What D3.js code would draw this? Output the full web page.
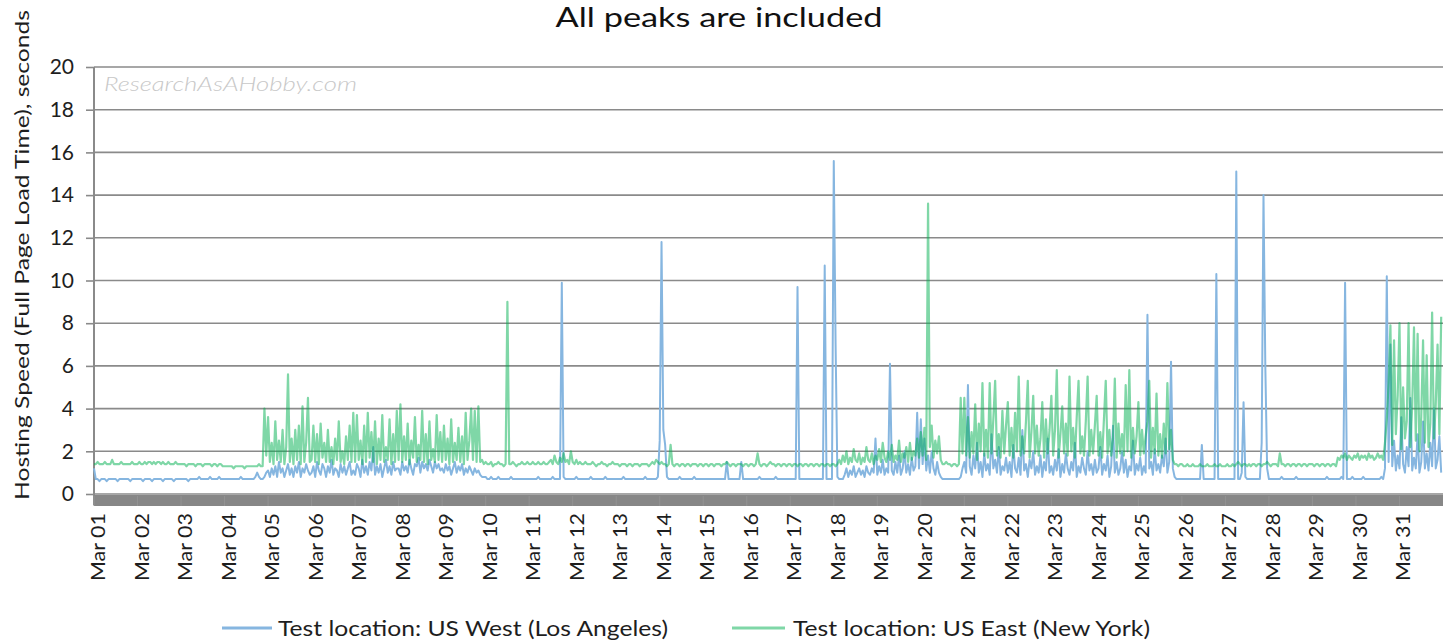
<!DOCTYPE html>
<html><head><meta charset="utf-8">
<script src="https://cdn.jsdelivr.net/npm/d3@7"></script>
<style>
body{margin:0;background:#fff;}
svg{display:block;font-family:Lato,"Open Sans",sans-serif;}
</style>
</head><body>
<svg id="chart" width="1451" height="643"></svg>
<script>
// ---------- data ----------
const chartTitle = "All peaks are included";
const yAxisTitle = "Hosting Speed (Full Page Load Time), seconds";
const watermark = "ResearchAsAHobby.com";
const seriesLabels = ["Test location: US West (Los Angeles)", "Test location: US East (New York)"];
const dayLabels = ["Mar 01","Mar 02","Mar 03","Mar 04","Mar 05","Mar 06","Mar 07","Mar 08","Mar 09","Mar 10",
  "Mar 11","Mar 12","Mar 13","Mar 14","Mar 15","Mar 16","Mar 17","Mar 18","Mar 19","Mar 20",
  "Mar 21","Mar 22","Mar 23","Mar 24","Mar 25","Mar 26","Mar 27","Mar 28","Mar 29","Mar 30","Mar 31"];
const yTickValues = [0,2,4,6,8,10,12,14,16,18,20];

// hourly load times (seconds), one row per day, 24 readings per row
const usWestHourly = [
  [1.2,0.7,0.7,0.6,0.7,0.7,0.7,0.6,0.7,0.7,0.7,0.7,0.7,0.6,0.7,0.7,0.7,0.7,0.7,0.7,0.6,0.7,0.7,0.7],
  [0.7,0.7,0.7,0.6,0.7,0.7,0.7,0.7,0.6,0.7,0.7,0.7,0.7,0.7,0.6,0.7,0.7,0.7,0.7,0.7,0.6,0.7,0.7,0.7],
  [0.7,0.7,0.7,0.7,0.6,0.7,0.7,0.7,0.7,0.7,0.8,0.7,0.7,0.7,0.7,0.7,0.8,0.7,0.7,0.7,0.7,0.8,0.7,0.7],
  [0.7,0.7,0.7,0.7,0.7,0.7,0.7,0.7,0.7,0.8,0.7,0.7,0.7,0.7,0.7,0.7,0.7,0.8,1.0,0.8,0.7,0.7,0.8,1.0],
  [1.1,0.8,1.2,0.9,1.3,0.8,1.5,1.0,1.2,0.8,1.1,1.4,0.9,1.2,0.8,1.3,1.0,1.5,0.8,1.2,1.0,1.4,1.1,0.9],
  [1.0,1.3,0.8,1.5,1.1,0.9,1.4,1.2,0.8,1.3,1.0,1.6,0.9,1.2,1.1,0.8,1.4,1.0,1.3,0.9,1.2,1.5,0.9,1.1],
  [0.9,1.4,1.2,0.8,1.6,1.0,1.3,0.9,1.5,1.1,2.2,0.9,1.3,1.0,1.4,0.8,1.2,1.6,1.0,1.3,0.9,1.5,1.1,1.2],
  [1.2,0.9,1.5,1.1,1.3,1.0,1.6,1.2,0.9,1.4,1.3,1.7,1.0,1.5,1.2,1.4,1.1,1.6,1.3,1.0,1.5,1.2,1.4,1.1],
  [1.2,1.0,1.4,1.1,1.3,0.9,1.2,1.5,1.0,1.3,1.1,1.4,0.9,1.2,1.0,1.3,1.1,0.9,1.2,1.0,1.1,0.9,0.8,0.8],
  [0.8,0.7,0.7,0.8,0.7,0.7,0.7,0.8,0.7,0.7,0.7,0.7,0.7,0.7,0.8,0.7,0.7,0.7,0.7,0.7,0.7,0.7,0.7,0.7],
  [0.7,0.7,0.7,0.7,0.7,0.8,0.7,0.7,0.7,0.7,0.7,0.7,0.7,0.8,0.7,0.7,0.7,0.7,9.9,0.8,0.7,0.7,0.7,0.7],
  [0.7,0.7,0.8,0.7,0.7,0.7,0.7,0.7,0.7,0.7,0.8,0.7,0.7,0.7,0.7,0.7,0.7,0.7,0.8,0.7,0.7,0.7,0.7,0.7],
  [0.7,0.7,0.7,0.7,0.8,0.7,0.7,0.7,0.7,0.7,0.7,0.7,0.7,0.7,0.7,0.7,0.8,0.7,0.7,0.7,0.7,0.7,0.7,0.8],
  [2.5,11.8,3.0,2.3,0.8,0.7,0.7,0.7,0.7,0.7,0.7,0.8,0.7,0.7,0.7,0.7,0.7,0.7,0.7,0.8,0.7,0.7,0.7,0.7],
  [0.7,0.7,0.7,0.7,0.7,0.7,0.7,0.7,0.7,0.7,0.7,0.7,0.7,1.5,0.7,0.7,0.7,0.7,0.7,0.7,0.7,1.5,0.7,0.7],
  [0.7,0.7,0.7,0.7,0.7,0.7,0.7,0.8,0.7,0.7,0.7,0.7,0.7,0.7,0.7,0.7,0.8,0.7,0.7,0.7,0.7,0.7,0.7,0.7],
  [0.7,0.7,0.7,0.7,9.7,0.7,0.7,0.7,0.7,0.7,0.7,0.7,0.7,0.7,0.7,0.7,0.7,0.7,0.7,10.7,0.7,0.7,0.7,0.7],
  [15.6,7.0,0.8,0.7,0.7,0.7,0.9,1.2,0.8,1.1,0.9,1.3,0.8,1.0,1.2,0.9,1.1,0.8,1.3,1.0,0.9,1.2,1.0,2.6],
  [0.9,1.3,1.0,1.6,0.9,1.2,1.0,6.1,1.1,0.9,1.5,1.0,1.8,0.9,1.2,2.0,1.0,1.4,0.9,1.7,1.1,1.3,3.8,1.2],
  [3.5,1.4,2.6,1.1,1.8,1.0,2.0,1.2,0.9,1.5,1.0,0.8,0.7,0.7,0.7,0.7,0.7,0.7,0.7,0.7,0.7,0.7,0.8,1.2],
  [1.5,1.0,5.1,1.3,0.9,1.8,1.2,2.4,1.0,1.5,0.8,1.9,1.1,1.4,0.9,2.8,1.2,1.6,1.0,2.2,0.9,1.3,1.1,1.7],
  [1.0,1.5,0.8,2.3,1.2,1.0,1.7,0.9,3.0,1.1,1.4,0.8,1.6,1.2,2.0,0.9,1.3,1.0,1.8,0.8,1.5,1.1,2.6,1.0],
  [1.3,0.9,1.6,1.1,2.1,0.8,1.4,1.0,1.9,1.2,0.9,1.5,1.1,2.4,0.8,1.3,1.0,1.7,1.2,0.9,2.0,1.1,1.4,0.9],
  [1.6,1.0,1.2,2.2,0.9,1.4,1.1,1.8,0.8,1.3,3.2,1.0,1.5,0.9,1.2,2.0,1.0,1.6,0.8,1.3,1.1,2.5,0.9,1.4],
  [1.1,1.7,0.9,1.3,1.0,8.4,1.2,1.5,0.9,2.1,1.1,1.4,1.0,1.8,1.3,2.6,1.0,1.5,6.2,1.2,0.8,0.7,0.7,0.7],
  [0.7,0.7,0.7,0.7,0.7,0.7,0.7,0.7,0.7,0.7,0.7,2.3,0.7,0.7,0.7,0.7,0.7,0.7,0.7,10.3,0.7,0.7,0.7,0.7],
  [0.7,0.7,0.7,0.7,0.7,0.7,15.1,0.7,0.7,1.0,4.3,0.8,0.7,0.7,0.7,0.7,0.7,0.7,0.7,0.7,2.4,14.0,6.0,1.2],
  [0.7,0.7,0.7,0.7,0.7,0.7,0.7,0.8,0.7,0.7,0.7,0.7,0.7,0.7,0.7,0.8,0.7,0.7,0.7,0.7,0.7,0.7,0.7,0.7],
  [0.7,0.7,0.7,0.7,0.7,0.7,0.7,0.7,0.8,0.7,0.7,0.7,0.7,0.7,0.7,0.7,0.8,0.7,9.9,0.7,0.7,0.7,0.8,0.7],
  [0.7,0.7,0.7,0.7,0.8,0.7,0.7,0.7,0.7,0.7,0.7,0.7,0.7,0.7,0.8,0.7,1.2,10.2,1.5,7.0,1.3,2.5,1.1,1.8],
  [1.2,3.6,1.4,1.0,2.2,1.3,4.5,1.1,1.7,1.2,2.8,1.0,1.5,3.4,1.2,1.9,1.1,2.4,1.3,4.0,1.2,1.6,2.7,1.0]
];

const usEastHourly = [
  [1.4,1.4,1.5,1.4,1.4,1.4,1.5,1.4,1.4,1.4,1.6,1.4,1.4,1.4,1.4,1.5,1.4,1.4,1.4,1.4,1.4,1.5,1.4,1.4],
  [1.4,1.5,1.4,1.4,1.5,1.4,1.5,1.5,1.4,1.5,1.4,1.5,1.5,1.4,1.5,1.4,1.4,1.5,1.4,1.4,1.4,1.5,1.4,1.4],
  [1.4,1.4,1.4,1.3,1.4,1.4,1.4,1.4,1.3,1.4,1.4,1.4,1.3,1.4,1.4,1.4,1.4,1.3,1.4,1.4,1.3,1.4,1.4,1.3],
  [1.3,1.3,1.3,1.3,1.3,1.2,1.3,1.3,1.3,1.3,1.3,1.2,1.3,1.3,1.3,1.3,1.3,1.3,1.3,1.4,1.3,1.3,4.0,1.8],
  [3.6,1.5,2.4,1.4,3.4,1.6,2.5,1.5,3.0,1.4,2.2,5.6,1.5,2.6,1.4,3.0,1.6,3.2,1.4,4.1,1.5,2.4,4.5,1.5],
  [1.6,3.2,1.5,2.8,1.4,3.3,1.7,2.4,1.5,3.0,1.5,2.2,1.4,2.6,1.6,3.4,1.5,2.0,1.4,2.7,1.6,3.2,1.5,3.8],
  [1.5,3.7,1.6,2.5,1.4,3.2,1.5,3.8,1.7,2.9,1.5,3.4,1.4,2.6,1.6,3.7,1.5,2.2,1.6,3.5,1.4,2.8,1.5,3.9],
  [1.6,4.2,1.5,2.7,1.6,3.3,1.4,2.5,1.7,3.6,1.5,2.3,1.6,3.9,1.5,2.8,1.4,3.4,1.6,2.1,1.5,3.7,1.6,2.9],
  [1.5,3.2,1.6,2.6,1.4,3.5,1.5,2.4,1.6,3.1,1.5,2.7,1.4,3.8,1.6,2.5,4.0,1.6,3.9,1.5,4.1,1.5,1.6,1.4],
  [1.5,1.4,1.4,1.5,1.3,1.4,1.4,1.5,1.4,1.4,1.3,1.4,9.0,1.4,1.4,1.5,1.4,1.3,1.4,1.4,1.5,1.4,1.4,1.5],
  [1.4,1.4,1.5,1.4,1.4,1.5,1.4,1.4,1.5,1.4,1.4,1.5,1.6,1.4,1.8,1.5,1.4,1.7,1.5,1.9,1.5,1.6,1.4,2.0],
  [1.5,1.4,1.6,1.4,1.5,1.4,1.4,1.5,1.4,1.4,1.4,1.5,1.4,1.3,1.4,1.4,1.5,1.4,1.4,1.3,1.4,1.4,1.5,1.4],
  [1.4,1.4,1.3,1.4,1.4,1.4,1.3,1.4,1.4,1.3,1.4,1.4,1.4,1.3,1.4,1.4,1.4,1.4,1.3,1.4,1.5,1.4,1.6,1.5],
  [1.4,1.5,1.4,1.4,1.3,1.4,2.3,1.4,1.3,1.4,1.4,1.3,1.4,1.4,1.3,1.4,1.4,1.3,1.4,1.4,1.4,1.3,1.4,1.4],
  [1.3,1.4,1.4,1.3,1.4,1.4,1.3,1.4,1.4,1.4,1.3,1.4,1.4,1.5,1.4,1.3,1.4,1.4,1.3,1.4,1.4,1.4,1.3,1.4],
  [1.4,1.3,1.4,1.4,1.3,1.4,1.9,1.4,1.3,1.4,1.4,1.3,1.4,1.5,1.4,1.4,1.3,1.4,1.4,1.3,1.4,1.4,1.3,1.4],
  [1.4,1.3,1.4,1.4,1.3,1.4,1.4,1.3,1.4,1.4,1.3,1.4,1.4,1.3,1.4,1.4,1.3,1.4,1.4,1.3,1.4,1.4,1.3,1.4],
  [1.4,1.3,1.4,1.6,1.4,1.8,1.5,2.0,1.4,1.7,1.5,2.1,1.6,1.5,1.9,1.4,1.7,1.5,2.2,1.6,1.5,1.9,1.4,1.8],
  [1.6,2.1,1.5,2.4,1.7,1.5,2.0,1.6,2.3,1.5,1.8,1.6,2.5,1.5,1.9,1.7,2.2,1.5,2.4,1.6,2.0,1.8,2.6,1.7],
  [2.9,1.8,3.1,1.6,13.6,2.2,3.2,1.7,2.5,1.9,2.7,1.6,1.4,1.4,1.5,1.4,1.4,1.3,1.4,1.4,1.3,1.4,4.5,1.9],
  [4.5,1.8,3.6,1.7,2.9,1.9,4.2,1.6,3.3,2.0,5.2,1.8,3.0,1.7,5.2,1.9,3.5,5.3,1.8,2.8,1.7,3.9,1.9,3.2],
  [4.3,1.8,3.1,1.7,3.8,2.0,5.5,1.8,2.7,1.9,3.4,5.3,1.7,2.9,4.6,1.9,3.2,1.8,2.6,4.3,1.7,3.5,1.9,3.0],
  [4.6,1.8,3.0,5.8,1.7,2.8,4.1,1.9,3.3,1.8,5.5,2.0,3.1,1.7,3.6,5.3,1.9,2.7,1.8,3.4,5.5,1.8,3.0,1.9],
  [3.2,4.6,1.8,2.9,1.7,3.5,5.3,1.9,3.0,1.8,2.6,5.4,1.7,3.3,1.9,2.8,1.8,5.1,2.0,5.8,1.7,3.1,1.9,2.7],
  [4.3,1.8,3.0,1.9,2.7,3.4,5.3,1.7,3.1,1.9,4.7,1.8,2.8,1.7,3.3,1.9,5.2,2.1,3.0,1.6,1.4,1.4,1.3,1.4],
  [1.4,1.3,1.3,1.4,1.3,1.3,1.4,1.3,1.3,1.3,1.4,1.3,1.3,1.3,1.4,1.3,1.3,1.3,1.4,1.3,1.3,1.4,1.3,1.3],
  [1.3,1.4,1.3,1.3,1.4,1.3,1.4,1.5,1.4,1.3,1.4,1.4,1.3,1.4,1.3,1.4,1.4,1.3,1.4,1.4,1.3,1.4,1.4,1.5],
  [1.4,1.3,1.4,1.4,1.4,1.3,1.9,1.4,1.4,1.3,1.4,1.4,1.3,1.4,1.4,1.3,1.4,1.4,1.3,1.4,1.4,1.3,1.4,1.4],
  [1.4,1.3,1.4,1.4,1.3,1.4,1.4,1.3,1.4,1.4,1.3,1.4,1.4,1.3,1.7,1.6,1.8,1.7,1.9,1.6,1.8,1.7,1.6,1.8],
  [1.7,1.9,1.6,1.8,1.7,1.8,1.6,1.9,1.7,1.8,1.6,1.7,1.9,1.7,1.8,1.6,2.4,3.5,5.2,7.9,2.3,7.2,2.8,4.6],
  [8.0,2.1,5.0,2.6,3.4,8.0,2.2,4.1,7.8,2.5,7.5,2.0,3.6,7.2,2.4,6.5,2.2,3.3,8.5,2.6,4.2,7.0,2.8,8.3]
];

// ---------- layout ----------
const svg = d3.select("#chart");
const plot = {left: 94, right: 1443, top: 67, bottom: 494};
const hoursPerDay = 24;
const totalHours = dayLabels.length * hoursPerDay;

const x = d3.scaleLinear().domain([0, totalHours]).range([plot.left, plot.right]);
const y = d3.scaleLinear().domain([0, 20]).range([plot.bottom, plot.top]);

const west = usWestHourly.flat().map((v, i) => ({i, v}));
const east = usEastHourly.flat().map((v, i) => ({i, v}));

// title
svg.append("text").attr("x", 719).attr("y", 27).attr("text-anchor", "middle")
  .attr("font-size", 26).attr("fill", "#111").attr("textLength", 327).attr("lengthAdjust", "spacingAndGlyphs")
  .text(chartTitle);

// y tick labels + tick marks via axis
const yAxis = d3.axisLeft(y).tickValues(yTickValues).tickSize(8).tickPadding(12).tickFormat(d3.format("d"));
const gy = svg.append("g").attr("transform", `translate(${plot.left},0)`).call(yAxis);
gy.select(".domain").remove();
gy.selectAll(".tick line").attr("stroke", "#8a8a8a").attr("stroke-width", 1.6);
gy.selectAll(".tick text").attr("font-size", 21).attr("fill", "#1e1e1e").attr("font-family", "Lato, sans-serif");

// gridlines
svg.append("g").selectAll("line").data(yTickValues).join("line")
  .attr("x1", plot.left).attr("x2", plot.right)
  .attr("y1", d => y(d)).attr("y2", d => y(d))
  .attr("stroke", "#8a8a8a").attr("stroke-width", 1.6);

// vertical axis line
svg.append("line").attr("x1", plot.left).attr("x2", plot.left)
  .attr("y1", y(20)).attr("y2", y(0) + 11)
  .attr("stroke", "#8a8a8a").attr("stroke-width", 2);

// watermark
svg.append("text").attr("x", 104).attr("y", 91).attr("font-size", 19).attr("font-style", "italic")
  .attr("font-weight", 300)
  .attr("fill", "#c8c8c8").attr("textLength", 253).attr("lengthAdjust", "spacingAndGlyphs").text(watermark);

// dense category axis band
svg.append("rect").attr("x", plot.left).attr("y", y(0) + 1).attr("width", plot.right - plot.left).attr("height", 11)
  .attr("fill", "#878787");
svg.append("g").selectAll("line").data(dayLabels).join("line")
  .attr("x1", (d, k) => x(k * hoursPerDay)).attr("x2", (d, k) => x(k * hoursPerDay))
  .attr("y1", y(0) + 2).attr("y2", y(0) + 12).attr("stroke", "#939393").attr("stroke-width", 1);

// day labels
svg.append("g").selectAll("text").data(dayLabels).join("text")
  .attr("transform", (d, k) => `translate(${x(k * hoursPerDay) + 11},513) rotate(-90)`)
  .attr("text-anchor", "end").attr("font-size", 19).attr("fill", "#1e1e1e")
  .attr("textLength", 68).attr("lengthAdjust", "spacingAndGlyphs")
  .text(d => d);

// y axis title
svg.append("text").attr("transform", "translate(29,255) rotate(-90)")
  .attr("text-anchor", "middle").attr("font-size", 20).attr("fill", "#1e1e1e")
  .attr("textLength", 490).attr("lengthAdjust", "spacingAndGlyphs").text(yAxisTitle);

// series
const line = d3.line().x(d => x(d.i)).y(d => y(d.v));
const westColor = "#86b6e0";
const eastColor = "rgb(0,176,80)";
svg.append("path").datum(west).attr("d", line).attr("fill", "none")
  .attr("stroke", westColor).attr("stroke-width", 2).attr("stroke-linejoin", "round");
svg.append("path").datum(east).attr("d", line).attr("fill", "none")
  .attr("stroke", eastColor).attr("stroke-opacity", 0.5).attr("stroke-width", 2.2).attr("stroke-linejoin", "round");

// legend
const legend = [
  {label: seriesLabels[0], color: westColor, op: 1, x1: 222, x2: 272, tx: 278, tl: 390},
  {label: seriesLabels[1], color: eastColor, op: 0.5, x1: 732, x2: 785, tx: 793, tl: 357}
];
const lg = svg.append("g").selectAll("g").data(legend).join("g");
lg.append("line").attr("x1", d => d.x1).attr("x2", d => d.x2).attr("y1", 628).attr("y2", 628)
  .attr("stroke", d => d.color).attr("stroke-opacity", d => d.op).attr("stroke-width", 3);
lg.append("text").attr("x", d => d.tx).attr("y", 636).attr("font-size", 21).attr("fill", "#1e1e1e")
  .attr("textLength", d => d.tl).attr("lengthAdjust", "spacingAndGlyphs").text(d => d.label);
</script>
</body></html>
